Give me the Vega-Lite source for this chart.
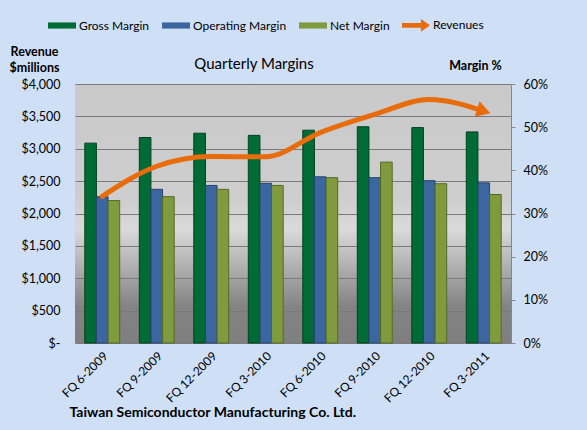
{
  "$schema": "https://vega.github.io/schema/vega-lite/v6.json",
  "width": 436,
  "height": 259,
  "autosize": {"type": "none"},
  "padding": {"left": 75, "top": 84, "right": 76, "bottom": 87},
  "background": "#cfdff6",
  "config": {
    "font": "Lato",
    "view": {
      "stroke": null,
      "fill": {
        "gradient": "linear", "x1": 0, "y1": 0, "x2": 0, "y2": 1,
        "stops": [
          {"offset": 0, "color": "#c9c9c9"},
          {"offset": 0.45, "color": "#cecece"},
          {"offset": 0.56, "color": "#dadada"},
          {"offset": 0.86, "color": "#838383"},
          {"offset": 1, "color": "#7f7f7f"}
        ]
      }
    },
    "axis": {"labelColor": "#000000", "titleColor": "#000000", "labelFont": "Lato", "titleFont": "Lato"}
  },
  "title": {"text": "Quarterly Margins", "fontSize": 15, "fontWeight": "normal", "color": "#000000", "offset": 12, "dx": -39, "dy": 73, "anchor": "middle", "font": "Lato"},
  "encoding": {
    "x": {
      "field": "quarter", "type": "nominal",
      "sort": ["FQ 6-2009", "FQ 9-2009", "FQ 12-2009", "FQ 3-2010", "FQ 6-2010", "FQ 9-2010", "FQ 12-2010", "FQ 3-2011"],
      "scale": {"paddingInner": 0.36, "paddingOuter": 0.18},
      "axis": {
        "labelAngle": -45, "domain": false, "ticks": false, "labelPadding": 7, "labelFontSize": 12,
        "title": "Taiwan Semiconductor Manufacturing Co. Ltd.",
        "titleX": -6, "titleY": 73, "titleAlign": "left", "titleBaseline": "alphabetic",
        "titleFontWeight": "bold", "titleFontSize": 14
      }
    },
    "color": {
      "field": "series", "type": "nominal",
      "scale": {
        "domain": ["Gross Margin", "Operating Margin", "Net Margin", "Revenues"],
        "range": ["#006b34", "#3c66a0", "#7f9b3d", "#e96c0c"]
      },
      "legend": {
        "orient": "none", "legendX": -27, "legendY": -73, "direction": "horizontal", "columns": 4,
        "title": null, "labelFont": "Lato", "labelFontSize": 12, "labelColor": "#000000",
        "symbolSize": 784, "columnPadding": 12, "labelOffset": 3, "symbolType": "square",
        "symbolStrokeWidth": 0, "symbolOpacity": 1,
        "encode": {
          "symbols": {
            "update": {
              "shape": {"signal": "datum.label === 'Revenues' ? 'M-1,-0.17H0.35V-0.45L1,0L0.35,0.45V0.17H-1Z' : 'M-1,-0.22H1V0.22H-1Z'"},
              "fill": {"scale": "color", "field": "value"},
              "stroke": {"value": "transparent"},
              "opacity": {"value": 1}
            }
          }
        }
      }
    }
  },
  "layer": [
    {
      "data": {
        "values": [
          {"quarter": "FQ 6-2009", "series": "Gross Margin", "margin": 0.463},
          {"quarter": "FQ 6-2009", "series": "Operating Margin", "margin": 0.339},
          {"quarter": "FQ 6-2009", "series": "Net Margin", "margin": 0.330},
          {"quarter": "FQ 9-2009", "series": "Gross Margin", "margin": 0.476},
          {"quarter": "FQ 9-2009", "series": "Operating Margin", "margin": 0.356},
          {"quarter": "FQ 9-2009", "series": "Net Margin", "margin": 0.339},
          {"quarter": "FQ 12-2009", "series": "Gross Margin", "margin": 0.486},
          {"quarter": "FQ 12-2009", "series": "Operating Margin", "margin": 0.365},
          {"quarter": "FQ 12-2009", "series": "Net Margin", "margin": 0.356},
          {"quarter": "FQ 3-2010", "series": "Gross Margin", "margin": 0.481},
          {"quarter": "FQ 3-2010", "series": "Operating Margin", "margin": 0.370},
          {"quarter": "FQ 3-2010", "series": "Net Margin", "margin": 0.365},
          {"quarter": "FQ 6-2010", "series": "Gross Margin", "margin": 0.493},
          {"quarter": "FQ 6-2010", "series": "Operating Margin", "margin": 0.385},
          {"quarter": "FQ 6-2010", "series": "Net Margin", "margin": 0.383},
          {"quarter": "FQ 9-2010", "series": "Gross Margin", "margin": 0.501},
          {"quarter": "FQ 9-2010", "series": "Operating Margin", "margin": 0.383},
          {"quarter": "FQ 9-2010", "series": "Net Margin", "margin": 0.419},
          {"quarter": "FQ 12-2010", "series": "Gross Margin", "margin": 0.499},
          {"quarter": "FQ 12-2010", "series": "Operating Margin", "margin": 0.376},
          {"quarter": "FQ 12-2010", "series": "Net Margin", "margin": 0.369},
          {"quarter": "FQ 3-2011", "series": "Gross Margin", "margin": 0.489},
          {"quarter": "FQ 3-2011", "series": "Operating Margin", "margin": 0.371},
          {"quarter": "FQ 3-2011", "series": "Net Margin", "margin": 0.344}
        ]
      },
      "mark": {"type": "bar", "strokeWidth": 1},
      "encoding": {
        "xOffset": {"field": "series", "type": "nominal", "sort": ["Gross Margin", "Operating Margin", "Net Margin"]},
        "y": {
          "field": "margin", "type": "quantitative",
          "scale": {"domain": [0, 0.6]},
          "axis": {
            "orient": "right", "values": [0, 0.1, 0.2, 0.3, 0.4, 0.5, 0.6], "format": ".0%",
            "grid": false, "domain": true, "domainColor": "#868686", "ticks": true, "tickSize": 4,
            "tickColor": "#868686", "labelPadding": 8, "labelFontSize": 12.5,
            "title": "Margin %", "titleAngle": 0, "titleX": -36, "titleY": -12,
            "titleAlign": "center", "titleBaseline": "bottom", "titleFontWeight": "bold", "titleFontSize": 12.5
          }
        },
        "stroke": {
          "field": "series", "type": "nominal",
          "scale": {"domain": ["Gross Margin", "Operating Margin", "Net Margin"], "range": ["#00411f", "#26446e", "#546a24"]},
          "legend": null
        }
      }
    },
    {
      "data": {
        "values": [
          {"quarter": "FQ 6-2009", "series": "Revenues", "revenue": 2265},
          {"quarter": "FQ 9-2009", "series": "Revenues", "revenue": 2730},
          {"quarter": "FQ 12-2009", "series": "Revenues", "revenue": 2880},
          {"quarter": "FQ 3-2010", "series": "Revenues", "revenue": 2875},
          {"quarter": "FQ 6-2010", "series": "Revenues", "revenue": 3250},
          {"quarter": "FQ 9-2010", "series": "Revenues", "revenue": 3530},
          {"quarter": "FQ 12-2010", "series": "Revenues", "revenue": 3760},
          {"quarter": "FQ 3-2011", "series": "Revenues", "revenue": 3580}
        ]
      },
      "encoding": {
        "y": {
          "field": "revenue", "type": "quantitative",
          "scale": {"domain": [0, 4000]},
          "axis": {
            "orient": "left", "values": [0, 500, 1000, 1500, 2000, 2500, 3000, 3500, 4000],
            "labelExpr": "datum.value == 0 ? '$-' : '$' + format(datum.value, ',')",
            "grid": true, "gridColor": "#7a7a7a", "gridWidth": 1, "domain": false, "ticks": false,
            "labelPadding": 15, "labelFontSize": 12.5,
            "title": ["Revenue", "$millions"], "titleAngle": 0, "titleX": -41, "titleY": -26,
            "titleAlign": "center", "titleBaseline": "bottom", "titleFontWeight": "bold",
            "titleFontSize": 12.5, "titleLineHeight": 16
          }
        }
      },
      "layer": [
        {"mark": {"type": "line", "strokeWidth": 5, "interpolate": "monotone", "strokeCap": "round"}},
        {
          "transform": [{"filter": "datum.quarter == 'FQ 3-2011'"}],
          "mark": {"type": "point", "shape": "triangle-right", "filled": true, "size": 260, "angle": 18, "opacity": 1}
        }
      ]
    }
  ],
  "resolve": {"scale": {"y": "independent"}}
}
